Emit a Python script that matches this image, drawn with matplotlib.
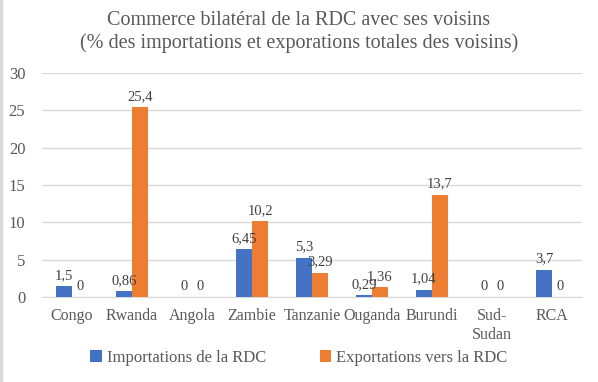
import numpy as np
import matplotlib
matplotlib.use('Agg')
import matplotlib.pyplot as plt

# Données du graphique
pays = ['Congo', 'Rwanda', 'Angola', 'Zambie', 'Tanzanie', 'Ouganda', 'Burundi', 'Sud-\nSudan', 'RCA']
importations = [1.5, 0.86, 0, 6.45, 5.3, 0.29, 1.04, 0, 3.7]
exportations = [0, 25.4, 0, 10.2, 3.29, 1.36, 13.7, 0, 0]
lib_imp = ['1,5', '0,86', '0', '6,45', '5,3', '0,29', '1,04', '0', '3,7']
lib_exp = ['0', '25,4', '0', '10,2', '3,29', '1,36', '13,7', '0', '0']

bleu = '#4472C4'
orange = '#ED7D31'
gris = '#595959'

plt.rcParams['font.family'] = ['Liberation Serif', 'DejaVu Serif']

fig = plt.figure(figsize=(5.98, 3.82), dpi=100)
ax = fig.add_axes([0.0702, 0.2217, 0.9030, 0.5880])

x = np.arange(len(pays))
w = 0.267
b1 = ax.bar(x - w / 2, importations, w, color=bleu, label='Importations de la RDC', zorder=3)
b2 = ax.bar(x + w / 2, exportations, w, color=orange, label='Exportations vers la RDC', zorder=3)

# Étiquettes de valeurs
for xi, v, t in zip(x - w / 2, importations, lib_imp):
    ax.annotate(t, (xi, v), xytext=(0, 3), textcoords='offset points',
                ha='center', va='bottom', fontsize=10.5, color='#404040')
for xi, v, t in zip(x + w / 2, exportations, lib_exp):
    ax.annotate(t, (xi, v), xytext=(0, 3), textcoords='offset points',
                ha='center', va='bottom', fontsize=10.5, color='#404040')

ax.set_xlim(-0.5, len(pays) - 0.5)
ax.set_ylim(0, 30)
ax.set_yticks(range(0, 31, 5))
ax.set_xticks(x)
ax.set_xticklabels(pays, fontsize=11.5, color=gris, linespacing=1.2)
ax.tick_params(axis='y', labelsize=12, colors=gris, length=0, pad=12)
ax.tick_params(axis='x', length=0, pad=8)
ax.grid(axis='y', color='#D9D9D9', linewidth=1, zorder=0)
for s in ['top', 'right', 'left']:
    ax.spines[s].set_visible(False)
ax.spines['bottom'].set_color('#D9D9D9')

fig.text(0.5, 0.972, 'Commerce bilatéral de la RDC avec ses voisins\n(% des importations et exporations totales des voisins)',
         ha='center', va='top', fontsize=14.5, color=gris, linespacing=1.25)

fig.legend(handles=[b1, b2], loc='center', bbox_to_anchor=(0.5, 0.064), ncol=2,
           frameon=False, fontsize=12, labelcolor=gris, handlelength=0.7,
           handleheight=0.7, handletextpad=0.3, columnspacing=3.2)

# Bordure grise à gauche
fig.patches.append(plt.Rectangle((0, 0), 0.004, 1, transform=fig.transFigure,
                                 color='#D9D9D9', zorder=0))

fig.savefig('out.png', dpi=100)
plt.close(fig)
